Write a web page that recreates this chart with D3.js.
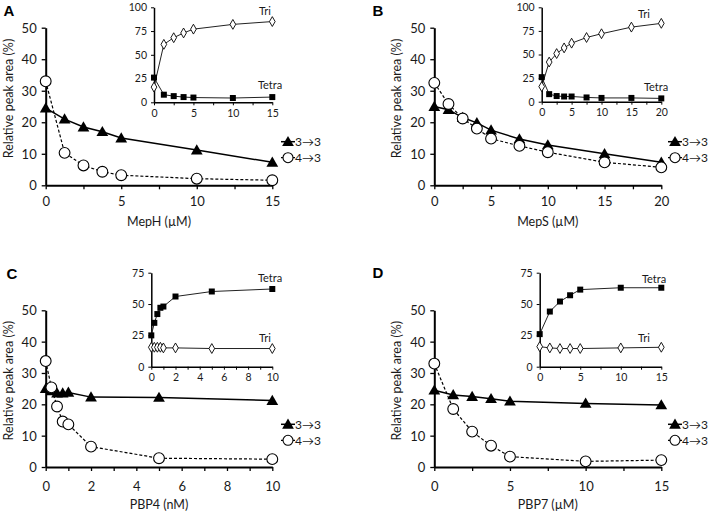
<!DOCTYPE html>
<html>
<head>
<meta charset="utf-8">
<script src="https://cdn.jsdelivr.net/npm/d3@7"></script>
<style>
  html, body { margin: 0; padding: 0; background: #fff; }
  svg { display: block; }
  text { font-family: Lato, "Open Sans", "Liberation Sans", sans-serif; fill: #1a1a1a; }
</style>
</head>
<body>
<svg id="chart" width="709" height="512"></svg>
<script>
// ---------- DATA ----------
// Panel A (MepH, µM)
const aX = [0, 1.25, 2.5, 3.75, 5, 10, 15];
const a33 = [24.5, 21, 18.5, 17, 15, 11.2, 7.3];
const a43 = [33, 10.3, 6.3, 4.3, 3.2, 2.1, 1.6];
const aTri = [16, 61, 68, 73, 77, 82, 85];
const aTetra = [26, 8, 6.5, 5.5, 5, 4.5, 5.5];

// Panel B (MepS, µM)
const bX = [0, 1.25, 2.5, 3.75, 5, 7.5, 10, 15, 20];
const b33 = [25, 24, 21.5, 19.8, 17.5, 14.7, 12.8, 10, 7.3];
const b43 = [32.5, 25.8, 21.2, 18, 14.8, 12.5, 10.5, 7.3, 5.7];
const bTri = [16, 42, 51, 57, 62, 68, 72, 79, 83];
const bTetra = [26, 8, 6, 5.5, 5.5, 4.5, 4, 4, 3.5];

// Panel C (PBP4, nM)
const cX = [0, 0.25, 0.5, 0.75, 1, 2, 5, 10];
const c33 = [25, 24.3, 23.6, 23.6, 23.8, 22.3, 22.2, 21.2];
const c43 = [33.8, 25.4, 19.3, 14.5, 13.6, 6.5, 2.8, 2.5];
const cTri = [15.5, 15.5, 15.5, 15.5, 15, 15, 14.5, 14.5];
const cTetra = [25, 35, 42, 47, 48, 56, 60, 62];

// Panel D (PBP7, µM)
const dX = [0, 1.25, 2.5, 3.75, 5, 10, 15];
const d33 = [24.5, 23, 22.5, 21.8, 21, 20.3, 19.8];
const d43 = [33, 18.5, 11.3, 6.8, 3.3, 1.8, 2.2];
const dTri = [16, 15, 14.5, 14.5, 14.5, 15, 15.5];
const dTetra = [26, 44, 52, 57, 61.5, 63, 63];

// Axis / label texts
const panelLetters = ["A", "B", "C", "D"];
const xTitles = ["MepH (\u00b5M)", "MepS (\u00b5M)", "PBP4 (nM)", "PBP7 (\u00b5M)"];
const yTitle = "Relative peak area (%)";
const mainYTicks = [0, 10, 20, 30, 40, 50];
const seriesNames = ["3\u21923", "4\u21923"];
const insetNames = ["Tri", "Tetra"];

// ---------- LAYOUT ----------
const panels = [
  { letter: panelLetters[0], xt: xTitles[0], x: aX, s33: a33, s43: a43, tri: aTri, tetra: aTetra,
    xmax: 15, xMinorStep: 2.5, xLabels: [0,5,10,15],
    main: { x0: 45.7, x1: 272.3, y0: 185.3, y1: 27.7 },
    inset: { x0: 154, x1: 272.3, y0: 102.3, y1: 7.3, ymax: 100, yTicks: [0,25,50,75,100], xLabels: [0,5,10,15], xMinorStep: 2.5 },
    letterPos: [9, 16], triLabel: [265, 15], tetraLabel: [270, 89],
    yTitleX: 9, legendX: 281, legendY: [141.7, 157.7], xLabY: 206, xTitleY: 226 },
  { letter: panelLetters[1], xt: xTitles[1], x: bX, s33: b33, s43: b43, tri: bTri, tetra: bTetra,
    xmax: 20, xMinorStep: 2.5, xLabels: [0,5,10,15,20],
    main: { x0: 434.3, x1: 661.3, y0: 185.3, y1: 27.7 },
    inset: { x0: 541.7, x1: 661.3, y0: 101.7, y1: 7.3, ymax: 100, yTicks: [0,25,50,75,100], xLabels: [0,5,10,15,20], xMinorStep: 2.5 },
    letterPos: [378, 16], triLabel: [644, 18], tetraLabel: [656, 91],
    yTitleX: 397, legendX: 668, legendY: [141.7, 157.7], xLabY: 206, xTitleY: 226 },
  { letter: panelLetters[2], xt: xTitles[2], x: cX, s33: c33, s43: c43, tri: cTri, tetra: cTetra,
    xmax: 10, xMinorStep: 1, xLabels: [0,2,4,6,8,10],
    main: { x0: 45.7, x1: 272.3, y0: 467, y1: 310.3 },
    inset: { x0: 151.3, x1: 272.3, y0: 366.7, y1: 272.7, ymax: 75, yTicks: [0,25,50,75], xLabels: [0,2,4,6,8,10], xMinorStep: 1 },
    letterPos: [12, 279], triLabel: [265, 342], tetraLabel: [270, 282],
    yTitleX: 9, legendX: 281, legendY: [424.3, 440.3], xLabY: 491, xTitleY: 509 },
  { letter: panelLetters[3], xt: xTitles[3], x: dX, s33: d33, s43: d43, tri: dTri, tetra: dTetra,
    xmax: 15, xMinorStep: 2.5, xLabels: [0,5,10,15],
    main: { x0: 434.3, x1: 661.3, y0: 467, y1: 310.3 },
    inset: { x0: 539.7, x1: 661.3, y0: 366.7, y1: 272.7, ymax: 75, yTicks: [0,25,50,75], xLabels: [0,5,10,15], xMinorStep: 2.5 },
    letterPos: [378, 278], triLabel: [644, 342], tetraLabel: [654, 283],
    yTitleX: 397, legendX: 668, legendY: [424.3, 440.3], xLabY: 491, xTitleY: 509 }
];

const svg = d3.select("#chart");
const tri = d3.symbol().type(d3.symbolTriangle).size(60);
const sq = d3.symbol().type(d3.symbolSquare).size(36);
const dia = d3.symbol().type(d3.symbolDiamond).size(28);

function ticksBy(max, step) {
  const n = Math.round(max / step);
  return d3.range(n + 1).map(i => +(i * step).toFixed(4));
}

panels.forEach(p => {
  const g = svg.append("g");
  const m = p.main;
  const x = d3.scaleLinear().domain([0, p.xmax]).range([m.x0, m.x1]);
  const y = d3.scaleLinear().domain([0, 50]).range([m.y0, m.y1]);

  // panel letter
  g.append("text").attr("x", p.letterPos[0]).attr("y", p.letterPos[1])
    .attr("text-anchor", "middle")
    .style("font-family", "'Liberation Sans', Arial, sans-serif")
    .style("font-weight", "bold").style("font-size", "15px").style("fill", "#000")
    .text(p.letter);

  // main x axis
  const xAxis = d3.axisBottom(x).tickValues(ticksBy(p.xmax, p.xMinorStep))
    .tickSize(4).tickSizeOuter(0)
    .tickFormat(d => p.xLabels.includes(d) ? d3.format("d")(d) : "");
  const gx = g.append("g").attr("transform", `translate(0,${m.y0})`).call(xAxis);
  gx.select(".domain").attr("stroke", "#000").attr("stroke-width", 2);
  gx.selectAll(".tick line").attr("stroke", "#000").attr("stroke-width", 1.3);
  gx.selectAll(".tick text").attr("y", null).attr("dy", null)
    .attr("transform", `translate(0,${p.xLabY - m.y0})`)
    .style("font-size", "13px");

  // main y axis
  const yAxis = d3.axisLeft(y).tickValues(mainYTicks).tickSize(4).tickSizeOuter(0);
  const gy = g.append("g").attr("transform", `translate(${m.x0},0)`).call(yAxis);
  gy.select(".domain").attr("stroke", "#000").attr("stroke-width", 2);
  gy.selectAll(".tick line").attr("stroke", "#000").attr("stroke-width", 1.3);
  gy.selectAll(".tick text").attr("x", -9).attr("dy", "0.35em").style("font-size", "13px");

  // titles
  g.append("text").attr("x", (m.x0 + m.x1) / 2).attr("y", p.xTitleY)
    .attr("text-anchor", "middle").style("font-size", "12.5px").text(p.xt);
  g.append("text")
    .attr("transform", `translate(${p.yTitleX + 4},${(m.y0 + m.y1) / 2 - 8}) rotate(-90)`)
    .attr("text-anchor", "middle").style("font-size", "12.5px").text(yTitle);

  const pts33 = p.x.map((v, i) => [v, p.s33[i]]);
  const pts43 = p.x.map((v, i) => [v, p.s43[i]]);
  const line = d3.line().x(d => x(d[0])).y(d => y(d[1]));

  // 3->3 solid line with triangles
  g.append("path").attr("d", line(pts33)).attr("fill", "none")
    .attr("stroke", "#000").attr("stroke-width", 1.5);
  g.selectAll(null).data(pts33).enter().append("path")
    .attr("d", tri).attr("transform", d => `translate(${x(d[0])},${y(d[1]) + 1})`)
    .attr("fill", "#000");

  // 4->3 dashed line with open circles
  g.append("path").attr("d", line(pts43)).attr("fill", "none")
    .attr("stroke", "#000").attr("stroke-width", 1.2).attr("stroke-dasharray", "3,2");
  g.selectAll(null).data(pts43).enter().append("circle")
    .attr("cx", d => x(d[0])).attr("cy", d => y(d[1])).attr("r", 5.4)
    .attr("fill", "#fff").attr("stroke", "#000").attr("stroke-width", 1.1);

  // legend
  const lx = p.legendX;
  const l1 = p.legendY[0], l2 = p.legendY[1];
  g.append("line").attr("x1", lx).attr("x2", lx + 14).attr("y1", l1).attr("y2", l1)
    .attr("stroke", "#000").attr("stroke-width", 1.5);
  g.append("path").attr("d", tri).attr("transform", `translate(${lx + 7},${l1 + 1})`).attr("fill", "#000");
  g.append("text").attr("x", lx + 14).attr("y", l1).attr("dy", "0.35em")
    .style("font-size", "12px").text(seriesNames[0]);
  g.append("line").attr("x1", lx).attr("x2", lx + 14).attr("y1", l2).attr("y2", l2)
    .attr("stroke", "#000").attr("stroke-width", 1.2).attr("stroke-dasharray", "2,2");
  g.append("circle").attr("cx", lx + 7).attr("cy", l2).attr("r", 5)
    .attr("fill", "#fff").attr("stroke", "#000").attr("stroke-width", 1.1);
  g.append("text").attr("x", lx + 14).attr("y", l2).attr("dy", "0.35em")
    .style("font-size", "12px").text(seriesNames[1]);

  // ---------- inset ----------
  const n = p.inset;
  const xi = d3.scaleLinear().domain([0, p.xmax]).range([n.x0, n.x1]);
  const yi = d3.scaleLinear().domain([0, n.ymax]).range([n.y0, n.y1]);
  const gi = g.append("g");

  const xiAxis = d3.axisBottom(xi).tickValues(ticksBy(p.xmax, n.xMinorStep))
    .tickSize(3).tickSizeOuter(0)
    .tickFormat(d => n.xLabels.includes(d) ? d3.format("d")(d) : "");
  const gxi = gi.append("g").attr("transform", `translate(0,${n.y0})`).call(xiAxis);
  gxi.select(".domain").attr("stroke", "#000").attr("stroke-width", 1.5);
  gxi.selectAll(".tick line").attr("stroke", "#000").attr("stroke-width", 1);
  gxi.selectAll(".tick text").attr("y", 7).style("font-size", "10.5px");

  const yiAxis = d3.axisLeft(yi).tickValues(n.yTicks).tickSize(3).tickSizeOuter(0);
  const gyi = gi.append("g").attr("transform", `translate(${n.x0},0)`).call(yiAxis);
  gyi.select(".domain").attr("stroke", "#000").attr("stroke-width", 1.5);
  gyi.selectAll(".tick line").attr("stroke", "#000").attr("stroke-width", 1);
  gyi.selectAll(".tick text").attr("x", -7).style("font-size", "10.5px");

  const lineI = d3.line().x(d => xi(d[0])).y(d => yi(d[1]));
  const ptsTri = p.x.map((v, i) => [v, p.tri[i]]);
  const ptsTetra = p.x.map((v, i) => [v, p.tetra[i]]);

  gi.append("path").attr("d", lineI(ptsTetra)).attr("fill", "none").attr("stroke", "#222").attr("stroke-width", 1);
  gi.append("path").attr("d", lineI(ptsTri)).attr("fill", "none").attr("stroke", "#222").attr("stroke-width", 1);
  gi.selectAll(null).data(ptsTetra).enter().append("path")
    .attr("d", sq).attr("transform", d => `translate(${xi(d[0])},${yi(d[1])})`).attr("fill", "#000");
  gi.selectAll(null).data(ptsTri).enter().append("path")
    .attr("d", dia).attr("transform", d => `translate(${xi(d[0])},${yi(d[1])})`)
    .attr("fill", "#fff").attr("stroke", "#000").attr("stroke-width", 0.9);

  gi.append("text").attr("x", p.triLabel[0]).attr("y", p.triLabel[1]).attr("text-anchor", "middle")
    .style("font-size", "11px").text(insetNames[0]);
  gi.append("text").attr("x", p.tetraLabel[0]).attr("y", p.tetraLabel[1]).attr("text-anchor", "middle")
    .style("font-size", "11px").text(insetNames[1]);
});
</script>
</body>
</html>
